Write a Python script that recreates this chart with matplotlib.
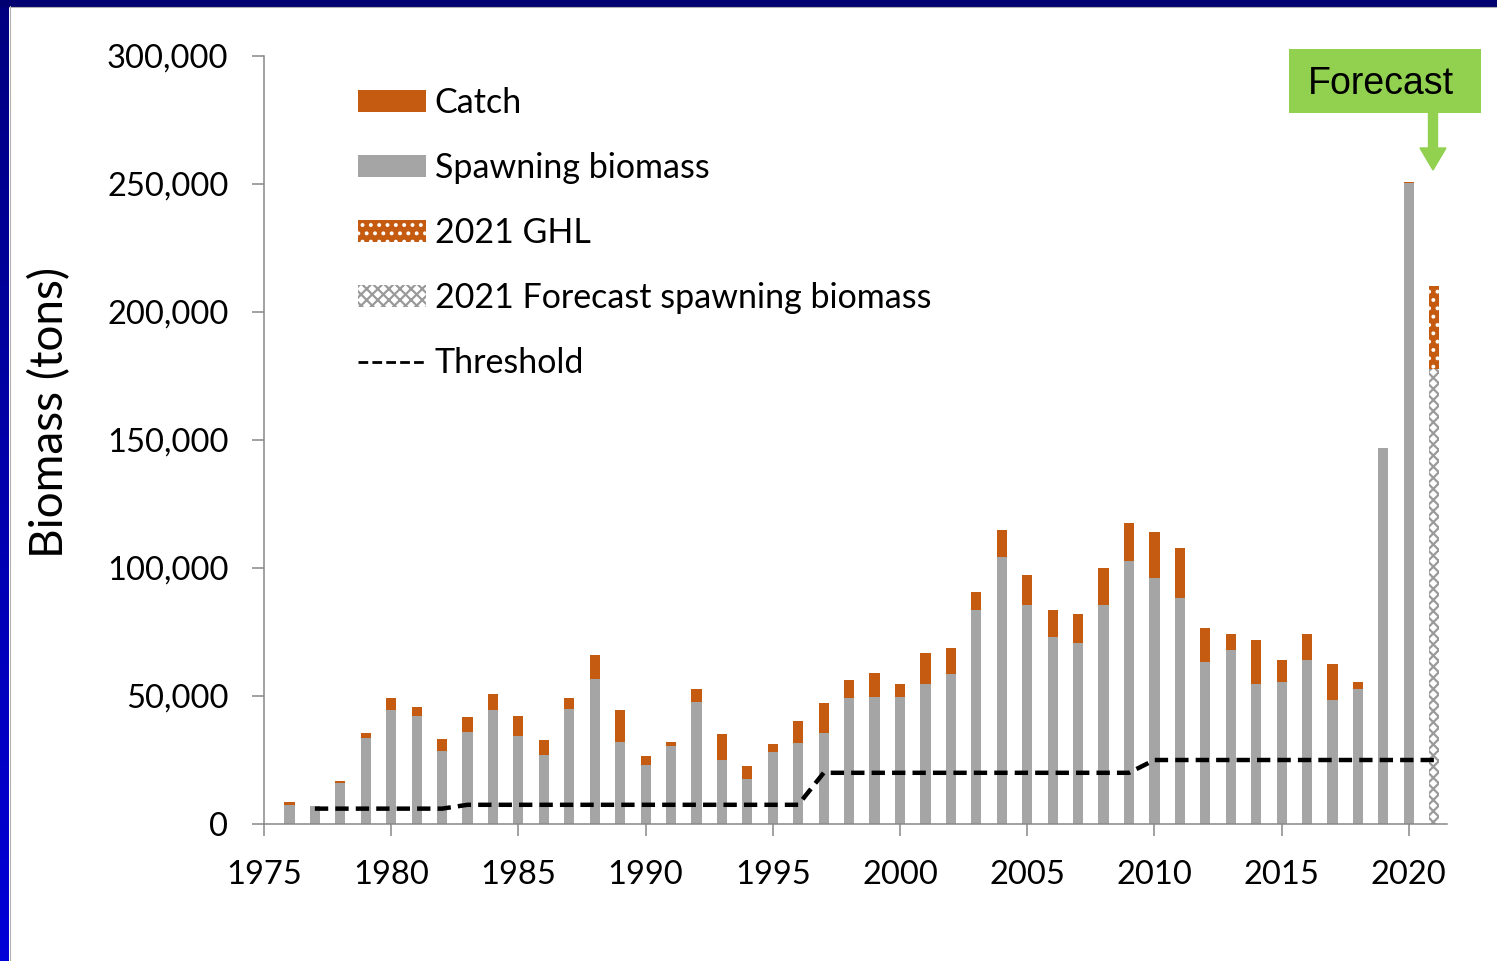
import numpy as np
import matplotlib
matplotlib.use("Agg")
import matplotlib.pyplot as plt
from matplotlib.patches import Patch, Rectangle, FancyArrow
from matplotlib.lines import Line2D
from matplotlib.ticker import FuncFormatter
from matplotlib.transforms import IdentityTransform
from matplotlib.colors import LinearSegmentedColormap

plt.rcParams['font.family'] = ['Lato', 'DejaVu Sans']
plt.rcParams['hatch.linewidth'] = 1.6

# --- data (tons) ---
years = list(range(1976, 2021))
spawning = [7500, 7000, 16100, 33600, 44700, 42200, 28500, 36100, 44700, 34500,
            27100, 45000, 56600, 32000, 23000, 30500, 47500, 25100, 17400, 28000,
            31500, 35400, 49100, 49600, 49600, 54700, 58600, 83600, 104200, 85700,
            73200, 70600, 85700, 102600, 96200, 88200, 63200, 68100, 54600, 55600,
            64200, 48600, 52600, 146800, 250500]
catch = [1000, 0, 600, 1900, 4400, 3500, 4600, 5600, 6000, 7600,
         5600, 4100, 9500, 12500, 3600, 1500, 5100, 9900, 5100, 3100,
         8600, 11700, 7000, 9500, 5100, 12000, 10000, 7000, 10500, 11400,
         10500, 11500, 14400, 15100, 18000, 19500, 13400, 6000, 17200, 8600,
         9900, 14000, 3000, 0, 400]
forecast_year = 2021
forecast_spawning = 177600
ghl_2021 = 32700

threshold_years = list(range(1977, 2022))
threshold = [6000, 6000, 6000, 6000, 6000, 6000,
             7500, 7500, 7500, 7500, 7500, 7500, 7500, 7500, 7500, 7500, 7500, 7500, 7500, 7500,
             20000, 20000, 20000, 20000, 20000, 20000, 20000, 20000, 20000, 20000, 20000, 20000, 20000,
             25000, 25000, 25000, 25000, 25000, 25000, 25000, 25000, 25000, 25000, 25000, 25000]

ORANGE = '#C55A11'
GRAY = '#A5A5A5'
AXGRAY = '#888888'

W, H = 1497, 961
fig = plt.figure(figsize=(W / 100, H / 100), dpi=100)
fig.patch.set_facecolor('white')

# border (blue frame at top and left)
bg = fig.add_axes([0, 0, 1, 1], zorder=-5)
bg.set_xlim(0, W)
bg.set_ylim(H, 0)
bg.axis('off')
grad = np.linspace(0, 1, 256).reshape(-1, 1)
bcmap = LinearSegmentedColormap.from_list('b', ['#000080', '#0000D8'])
bg.imshow(grad, cmap=bcmap, extent=[0, 9, H, 0], aspect='auto')
bg.add_patch(Rectangle((0, 0), W, 6, color='#000070'))
bg.plot([9.5, 9.5], [6, H], color='#B0B0B0', lw=0.8)
bg.plot([9, W], [6.5, 6.5], color='#B0B0B0', lw=0.8)

ax = fig.add_axes([264 / W, 1 - 824 / H, (1447 - 264) / W, (824 - 56) / H])
bw = 0.4
ax.bar(years, spawning, width=bw, color=GRAY, linewidth=0, zorder=2)
ax.bar(years, catch, width=bw, bottom=spawning, color=ORANGE, linewidth=0, zorder=2)
ax.bar([forecast_year], [forecast_spawning], width=bw, facecolor='white',
       edgecolor='#9A9A9A', hatch='xxx', linewidth=0, zorder=2)
ax.bar([forecast_year], [ghl_2021], width=bw, bottom=[forecast_spawning],
       facecolor=ORANGE, edgecolor='white', hatch='..', linewidth=0, zorder=2)
ax.plot(threshold_years, threshold, color='black', lw=3.2,
        linestyle=(0, (3, 1.6)), zorder=3)

ax.set_xlim(1975, 2021.5)
ax.set_ylim(0, 300000)
ax.set_xticks(range(1975, 2021, 5))
ax.set_yticks(range(0, 300001, 50000))
ax.yaxis.set_major_formatter(FuncFormatter(lambda v, p: f'{int(v):,}'))
for s in ['top', 'right']:
    ax.spines[s].set_visible(False)
for s in ['left', 'bottom']:
    ax.spines[s].set_color(AXGRAY)
    ax.spines[s].set_linewidth(1.1)
ax.tick_params(axis='both', colors=AXGRAY, length=8.6, width=1.1,
               labelsize=23.5, labelcolor='black')
ax.tick_params(axis='y', pad=17)
ax.tick_params(axis='x', pad=17)
ax.set_ylabel('Biomass (tons)', fontsize=33)
ax.yaxis.set_label_coords(-0.163, 0.536)

handles = [
    Patch(facecolor=ORANGE, linewidth=0),
    Patch(facecolor=GRAY, linewidth=0),
    Patch(facecolor=ORANGE, edgecolor='white', hatch='..', linewidth=0),
    Patch(facecolor='white', edgecolor='#9A9A9A', hatch='xxx', linewidth=0),
    Line2D([0], [0], color='black', lw=2, linestyle=(0, (3.5, 1.5))),
]
labels = ['Catch', 'Spawning biomass', '2021 GHL',
          '2021 Forecast spawning biomass', 'Threshold']
fig.legend(handles, labels, loc='upper left', bbox_to_anchor=(358 / W, 1 - 87 / H),
           frameon=False, fontsize=24.5, handlelength=2.0, handleheight=0.6,
           handletextpad=0.25, labelspacing=0.97, borderpad=0, borderaxespad=0)

# forecast callout
idt = IdentityTransform()
fig.patches.append(Rectangle((1289, H - 113), 192, 64, facecolor='#92D050',
                             edgecolor='none', transform=idt, figure=fig))
fig.text(1381 / W, 1 - 84 / H, 'Forecast', ha='center', va='center',
         fontsize=27, family=['Liberation Sans', 'DejaVu Sans'], color='black')
fig.patches.append(FancyArrow(1433, H - 113, 0, -57, width=9, head_width=26,
                              head_length=22, length_includes_head=True,
                              color='#92D050', transform=idt, figure=fig))

fig.savefig('out.png', dpi=100)
